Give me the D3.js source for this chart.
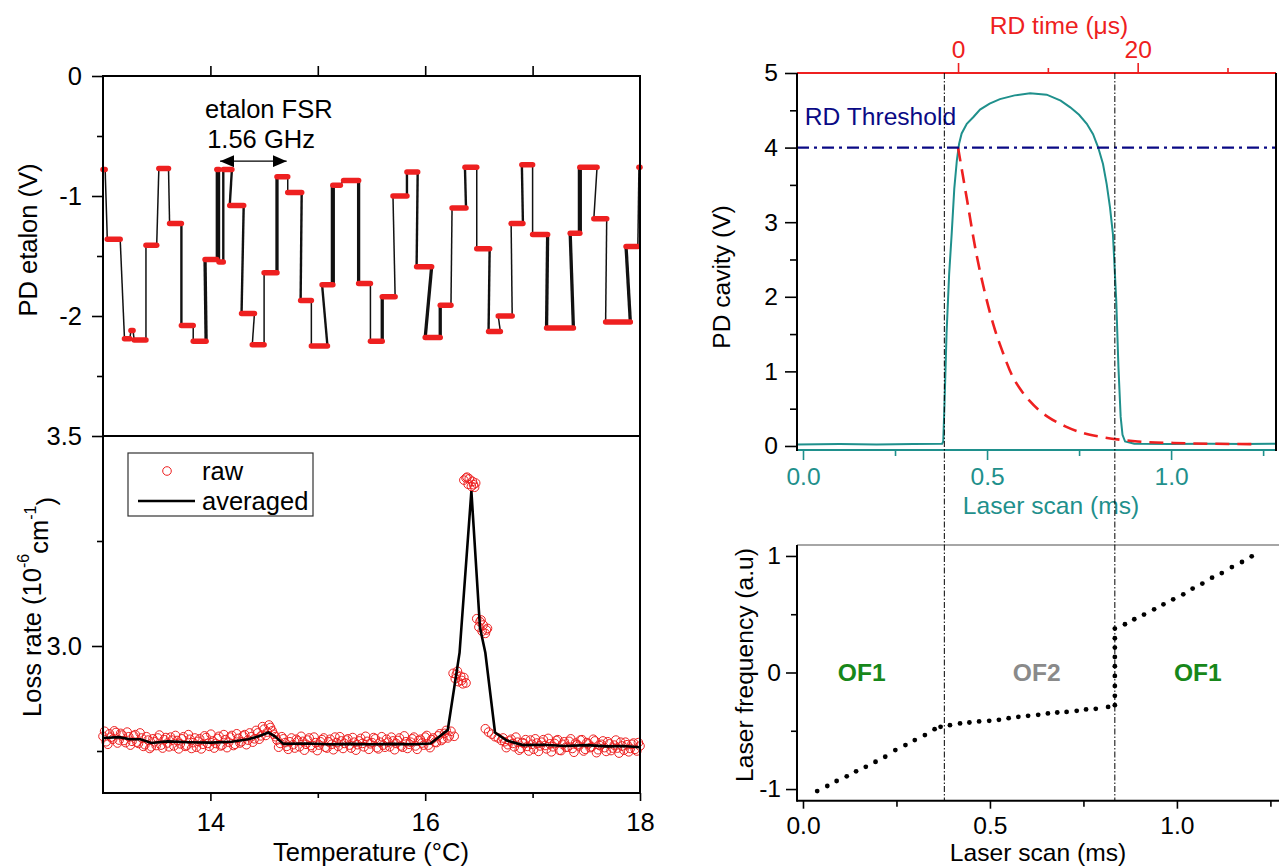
<!DOCTYPE html>
<html>
<head>
<meta charset="utf-8">
<script src="https://cdn.jsdelivr.net/npm/d3@7"></script>
<style>
body { margin: 0; background: #fff; }
svg text { font-family: "Liberation Sans", Arial, sans-serif; }
</style>
</head>
<body>
<svg width="1279" height="868"></svg>
<script>
// ---------- etalon signal: plateaus [T start, T end, volts, mode hops] ----------
var etalonSteps = [
  [13.00, 13.02, -0.78, 1], [13.04, 13.16, -1.36, 1], [13.20, 13.25, -2.19, 1],
  [13.26, 13.28, -2.12, 1], [13.29, 13.40, -2.20, 1], [13.40, 13.50, -1.41, 1],
  [13.52, 13.61, -0.77, 1], [13.62, 13.73, -1.23, 1], [13.73, 13.84, -2.08, 2],
  [13.84, 13.96, -2.21, 1], [13.95, 14.06, -1.53, 3], [14.06, 14.08, -0.78, 2],
  [14.08, 14.12, -1.55, 2], [14.12, 14.20, -0.78, 2], [14.18, 14.31, -1.08, 2],
  [14.29, 14.41, -1.98, 2], [14.39, 14.50, -2.24, 1], [14.50, 14.62, -1.64, 1],
  [14.62, 14.72, -0.84, 3], [14.72, 14.85, -0.97, 1], [14.84, 14.94, -1.87, 2],
  [14.94, 15.09, -2.25, 1], [15.04, 15.14, -1.74, 2], [15.14, 15.21, -0.91, 4],
  [15.24, 15.38, -0.87, 1], [15.38, 15.49, -1.73, 3], [15.49, 15.60, -2.21, 1],
  [15.60, 15.72, -1.84, 3], [15.70, 15.83, -1.00, 1], [15.83, 15.93, -0.80, 2],
  [15.92, 16.06, -1.59, 2], [16.00, 16.14, -2.18, 3], [16.14, 16.24, -1.91, 3],
  [16.25, 16.38, -1.10, 1], [16.37, 16.48, -0.76, 2], [16.48, 16.60, -1.44, 1],
  [16.59, 16.70, -2.13, 2], [16.68, 16.81, -2.00, 1], [16.80, 16.91, -1.23, 1],
  [16.90, 17.00, -0.74, 2], [17.00, 17.14, -1.32, 1], [17.13, 17.38, -2.10, 3],
  [17.35, 17.44, -1.31, 3], [17.44, 17.60, -0.76, 4], [17.57, 17.69, -1.19, 1],
  [17.68, 17.91, -2.05, 1], [17.87, 17.98, -1.42, 3], [17.99, 18.00, -0.76, 1]
];

// ---------- loss rate: raw points (first sweep) ----------
var rawT = [
  13.00,13.03,13.06,13.09,13.12,13.15,13.18,13.21,13.24,13.27,13.30,13.33,13.36,13.39,13.42,13.45,13.48,13.51,13.54,13.57,
  13.60,13.63,13.66,13.69,13.72,13.75,13.78,13.81,13.84,13.87,13.90,13.93,13.96,13.99,14.02,14.05,14.08,14.11,14.14,14.17,
  14.20,14.23,14.26,14.29,14.32,14.35,14.38,14.41,14.44,14.47,14.50,14.53,14.56,14.59,14.62,14.65,14.68,14.71,14.74,14.77,
  14.80,14.83,14.86,14.89,14.92,14.95,14.98,15.01,15.04,15.07,15.10,15.13,15.16,15.19,15.22,15.25,15.28,15.31,15.34,15.37,
  15.40,15.43,15.46,15.49,15.52,15.55,15.58,15.61,15.64,15.67,15.70,15.73,15.76,15.79,15.82,15.85,15.88,15.91,15.94,15.97,
  16.00,16.03,16.06,16.09,16.12,16.15,16.18,16.21,16.24,16.27,
  16.26,16.28,16.30,16.31,16.33,16.35,16.36,16.38,16.29,16.34,
  16.36,16.38,16.40,16.41,16.43,16.44,16.46,16.47,16.39,16.45,
  16.48,16.50,16.51,16.53,16.54,16.56,16.58,16.52,16.57,
  16.56,16.59,16.62,16.65,16.68,16.71,
  16.74,16.77,16.80,16.83,16.86,16.89,16.92,16.95,16.98,17.01,17.04,17.07,17.10,17.13,17.16,17.19,17.22,17.25,17.28,17.31,
  17.34,17.37,17.40,17.43,17.46,17.49,17.52,17.55,17.58,17.61,17.64,17.67,17.70,17.73,17.76,17.79,17.82,17.85,17.88,17.91,
  17.94,17.97,18.00
];
var rawV = [
  2.785,2.772,2.791,2.778,2.794,2.776,2.788,2.770,2.784,2.773,2.789,2.768,2.781,2.765,2.776,2.760,2.772,2.781,2.764,2.777,
  2.769,2.783,2.762,2.775,2.767,2.784,2.763,2.778,2.770,2.759,2.779,2.766,2.782,2.761,2.774,2.768,2.785,2.764,2.777,2.771,
  2.787,2.766,2.780,2.772,2.789,2.776,2.784,2.779,2.793,2.786,2.802,2.795,2.806,2.790,2.776,2.768,2.779,2.761,2.772,2.765,
  2.778,2.760,2.773,2.766,2.781,2.758,2.770,2.764,2.777,2.759,2.772,2.766,2.783,2.761,2.774,2.768,2.779,2.757,2.771,2.765,
  2.780,2.760,2.773,2.767,2.782,2.758,2.771,2.764,2.778,2.760,2.774,2.768,2.781,2.759,2.772,2.766,2.779,2.762,2.775,2.769,
  2.783,2.764,2.777,2.771,2.786,2.775,2.792,2.781,2.797,2.785,
  2.935,2.922,2.940,2.915,2.928,2.910,2.925,2.912,2.932,2.918,
  3.395,3.400,3.385,3.398,3.380,3.392,3.378,3.388,3.402,3.384,
  3.065,3.045,3.058,3.035,3.050,3.030,3.042,3.062,3.038,
  2.803,2.795,2.790,2.784,2.781,2.775,
  2.772,2.765,2.778,2.760,2.771,2.756,2.768,2.761,2.776,2.754,2.769,2.762,2.777,2.755,2.767,2.760,2.775,2.752,2.766,2.759,
  2.773,2.756,2.769,2.762,2.777,2.754,2.767,2.760,2.774,2.753,2.766,2.758,2.772,2.751,2.764,2.757,2.771,2.752,2.765,2.756,
  2.769,2.750,2.762
];

// ---------- loss rate: raw points (second sweep) ----------
var rawT2 = [
  13.015,13.045,13.075,13.105,13.135,13.165,13.195,13.225,13.255,13.285,13.315,13.345,13.375,13.405,13.435,13.465,13.495,13.525,
  13.555,13.585,13.615,13.645,13.675,13.705,13.735,13.765,13.795,13.825,13.855,13.885,13.915,13.945,13.975,14.005,14.035,14.065,
  14.095,14.125,14.155,14.185,14.215,14.245,14.275,14.305,14.335,14.365,14.395,14.425,14.455,14.485,14.515,14.545,14.575,14.605,
  14.635,14.665,14.695,14.725,14.755,14.785,14.815,14.845,14.875,14.905,14.935,14.965,14.995,15.025,15.055,15.085,15.115,15.145,
  15.175,15.205,15.235,15.265,15.295,15.325,15.355,15.385,15.415,15.445,15.475,15.505,15.535,15.565,15.595,15.625,15.655,15.685,
  15.715,15.745,15.775,15.805,15.835,15.865,15.895,15.925,15.955,15.985,16.015,16.045,16.075,16.105,16.135,16.165,16.195,16.225,
  16.725,16.755,16.785,16.815,16.845,16.875,16.905,16.935,16.965,16.995,17.025,17.055,17.085,17.115,17.145,17.175,17.205,17.235,
  17.265,17.295,17.325,17.355,17.385,17.415,17.445,17.475,17.505,17.535,17.565,17.595,17.625,17.655,17.685,17.715,17.745,17.775,
  17.805,17.835,17.865,17.895,17.925,17.955,17.985
];
var rawV2 = [
  2.797,2.766,2.783,2.798,2.769,2.792,2.775,2.795,2.764,2.786,2.771,2.793,2.761,2.784,2.756,2.779,2.763,2.788,
  2.757,2.782,2.760,2.776,2.787,2.755,2.779,2.761,2.789,2.756,2.781,2.773,2.755,2.786,2.768,2.790,2.757,2.780,
  2.762,2.789,2.758,2.783,2.763,2.791,2.769,2.786,2.765,2.793,2.771,2.799,2.778,2.808,2.787,2.812,2.798,2.784,
  2.759,2.784,2.770,2.754,2.781,2.757,2.774,2.785,2.752,2.776,2.763,2.783,2.751,2.772,2.781,2.757,2.778,2.753,
  2.770,2.784,2.756,2.776,2.764,2.782,2.752,2.774,2.768,2.785,2.754,2.770,2.779,2.755,2.784,2.759,2.771,2.783,
  2.753,2.775,2.762,2.786,2.756,2.771,2.783,2.754,2.778,2.764,2.787,2.758,2.781,2.770,2.791,2.779,2.799,2.786,
  2.781,2.758,2.774,2.768,2.783,2.752,2.770,2.777,2.750,2.766,2.779,2.749,2.771,2.763,2.780,2.748,2.768,2.777,
  2.751,2.772,2.759,2.779,2.747,2.765,2.776,2.750,2.770,2.758,2.778,2.746,2.763,2.774,2.749,2.767,2.757,2.776,
  2.745,2.762,2.771,2.748,2.766,2.754,2.770
];

// ---------- loss rate: averaged ----------
var avgT = [13.00,13.15,13.25,13.35,13.45,13.60,13.80,14.00,14.20,14.35,14.45,14.54,14.60,14.68,14.90,15.10,15.30,15.50,15.70,15.90,
            16.05,16.21,16.32,16.43,16.51,16.56,16.65,16.76,16.91,17.10,17.30,17.50,17.70,17.85,18.00];
var avgV = [2.781,2.783,2.778,2.778,2.769,2.773,2.771,2.770,2.772,2.778,2.785,2.794,2.785,2.767,2.768,2.766,2.767,2.766,2.767,2.766,
            2.768,2.800,2.984,3.369,3.044,2.984,2.794,2.775,2.764,2.765,2.762,2.764,2.761,2.762,2.759];

// ---------- PD cavity vs laser scan ----------
var cavScan = [-0.016,0.10,0.20,0.30,0.378,0.381,0.384,0.387,0.390,0.397,0.404,0.411,0.418,0.424,0.431,0.445,0.463,0.481,0.507,0.535,
               0.575,0.617,0.662,0.700,0.726,0.750,0.771,0.788,0.802,0.815,0.825,0.834,0.842,0.851,0.857,0.863,0.868,0.875,0.90,1.00,
               1.10,1.20,1.285];
var cavV = [0.020,0.025,0.020,0.025,0.030,0.06,0.50,1.00,1.51,2.30,2.85,3.45,3.83,4.05,4.19,4.32,4.41,4.51,4.59,4.65,
            4.70,4.73,4.71,4.63,4.54,4.44,4.32,4.18,4.00,3.78,3.51,3.20,2.84,1.95,1.05,0.39,0.15,0.06,0.03,0.025,
            0.03,0.025,0.03];

// ring-down decay (RD time in microseconds)
var rdTime = [0,1,2,3,4,5,6,7,8,9,10,12,14,16,18,20,24,28,33];
var rdV = [4.00,3.30,2.60,2.05,1.60,1.25,0.95,0.75,0.60,0.48,0.39,0.26,0.17,0.12,0.085,0.06,0.04,0.03,0.025];
var rdThreshold = 4;

// ---------- laser frequency vs laser scan ----------
var freqScan = [0.038,0.065,0.090,0.117,0.142,0.168,0.194,0.220,0.247,0.274,0.299,0.326,0.352,0.368,
                0.393,0.420,0.445,0.471,0.498,0.524,0.550,0.576,0.602,0.629,0.655,0.680,0.705,0.732,0.757,0.783,0.816,
                0.834,0.834,0.834,0.834,0.834,0.834,0.834,0.834,0.834,
                0.861,0.886,0.912,0.939,0.964,0.990,1.017,1.042,1.068,1.094,1.120,1.147,1.174,1.200];
var freqVal = [-1.017,-0.974,-0.931,-0.891,-0.848,-0.809,-0.766,-0.723,-0.666,-0.623,-0.580,-0.537,-0.486,-0.466,
               -0.452,-0.437,-0.429,-0.420,-0.415,-0.406,-0.392,-0.380,-0.372,-0.363,-0.351,-0.343,-0.338,-0.329,-0.317,-0.312,-0.295,
               -0.280,-0.200,-0.115,-0.029,0.054,0.134,0.214,0.294,0.377,
               0.414,0.457,0.497,0.542,0.585,0.628,0.671,0.720,0.763,0.814,0.853,0.905,0.948,0.997];
var regionBounds = [0.378, 0.834];
var regionNames = ['OF1', 'OF2', 'OF1'];
var regionCenters = [0.157, 0.625, 1.056];

// ---------- drawing ----------
var FONT_L = 25.5, FONT_R = 24.6;
var FAMILY = '"Liberation Sans", Arial, sans-serif';
var RED = '#ee2020', TEAL = '#1f908c', NAVY = '#0a0a85';

var svg = d3.select('svg');
svg.append('rect').attr('width', 1279).attr('height', 868).attr('fill', '#fff');

var xTemp = d3.scaleLinear().domain([13, 18]).range([103, 640]);
var yEtalon = d3.scaleLinear().domain([-3, 0]).range([436, 76]);
var yLoss = d3.scaleLinear().domain([2.65, 3.5]).range([793, 436]);

var xScan = d3.scaleLinear().domain([-0.0163, 1.285]).range([797, 1276]);
var xRD = d3.scaleLinear().domain([-17.93, 35.4]).range([797, 1276]);
var yCav = d3.scaleLinear().domain([-0.054, 5]).range([450, 73]);

var xScan2 = d3.scaleLinear().domain([-0.016, 1.273]).range([797, 1279]);
var yFreq = d3.scaleLinear().domain([-1.1, 1.094]).range([800.7, 545]);

function addAxis(orient, scale, pos, o) {
  var make = {left: d3.axisLeft, top: d3.axisTop, bottom: d3.axisBottom}[orient];
  var tr = orient == 'left' ? 'translate(' + pos + ',0)' : 'translate(0,' + pos + ')';
  if (o.minor) {
    var gm = svg.append('g').attr('transform', tr)
      .call(make(scale).tickValues(o.minor).tickSize(o.minorSize).tickFormat(''));
    gm.select('.domain').remove();
    gm.selectAll('line').attr('stroke', o.color).attr('stroke-width', 1.6);
  }
  var g = svg.append('g').attr('transform', tr)
    .call(make(scale).tickValues(o.major).tickSize(o.size).tickPadding(o.pad)
      .tickFormat(o.fmt || function(d) { return d; }));
  g.attr('font-size', o.font).attr('font-family', FAMILY);
  g.select('.domain').remove();
  g.selectAll('line').attr('stroke', o.color).attr('stroke-width', 1.6);
  g.selectAll('text').attr('fill', o.text || o.color);
  if (o.noLabels) g.selectAll('text').remove();
}

function hline(y, x0, x1, color, w) {
  return svg.append('line').attr('x1', x0).attr('x2', x1).attr('y1', y).attr('y2', y)
    .attr('stroke', color).attr('stroke-width', w || 2);
}
function vline(x, y0, y1, color, w) {
  return svg.append('line').attr('x1', x).attr('x2', x).attr('y1', y0).attr('y2', y1)
    .attr('stroke', color).attr('stroke-width', w || 2);
}

// ===== left top: etalon =====
var etalonG = svg.append('g');
etalonSteps.forEach(function(s, i) {
  if (i > 0) {
    var p = etalonSteps[i - 1];
    etalonG.append('line')
      .attr('x1', xTemp(p[1])).attr('y1', yEtalon(p[2]))
      .attr('x2', xTemp(s[0])).attr('y2', yEtalon(s[2]))
      .attr('stroke', '#111').attr('stroke-width', 0.6 + 0.9 * s[3]);
  }
});
etalonG.selectAll('line.step').data(etalonSteps).enter().append('line')
  .attr('x1', function(d) { return xTemp(d[0]); })
  .attr('x2', function(d) { return xTemp(d[1]); })
  .attr('y1', function(d) { return yEtalon(d[2]); })
  .attr('y2', function(d) { return yEtalon(d[2]); })
  .attr('stroke', RED).attr('stroke-width', 5.5).attr('stroke-linecap', 'round');

// FSR annotation
var defs = svg.append('defs');
defs.append('marker').attr('id', 'head').attr('viewBox', '0 0 14 12')
  .attr('refX', 14).attr('refY', 6).attr('markerWidth', 14).attr('markerHeight', 12)
  .attr('markerUnits', 'userSpaceOnUse').attr('orient', 'auto-start-reverse')
  .append('path').attr('d', 'M0,0 L14,6 L0,12 Z').attr('fill', '#000');
svg.append('line')
  .attr('x1', xTemp(14.09)).attr('x2', xTemp(14.71))
  .attr('y1', yEtalon(-0.71)).attr('y2', yEtalon(-0.71))
  .attr('stroke', '#000').attr('stroke-width', 1.3)
  .attr('marker-start', 'url(#head)').attr('marker-end', 'url(#head)');
svg.append('text').attr('x', xTemp(13.95)).attr('y', yEtalon(-0.35))
  .attr('font-size', FONT_L).text('etalon FSR');
svg.append('text').attr('x', xTemp(13.97)).attr('y', yEtalon(-0.6))
  .attr('font-size', FONT_L).text('1.56 GHz');

// ===== left bottom: loss rate =====
var raw = rawT.map(function(t, i) { return [t, rawV[i]]; })
  .concat(rawT2.map(function(t, i) { return [t, rawV2[i]]; }));
svg.append('g').selectAll('circle').data(raw).enter().append('circle')
  .attr('cx', function(d) { return xTemp(d[0]); })
  .attr('cy', function(d) { return yLoss(d[1]); })
  .attr('r', 4.3).attr('fill', 'none').attr('stroke', RED).attr('stroke-width', 1);

svg.append('path').datum(avgT.map(function(t, i) { return [t, avgV[i]]; }))
  .attr('d', d3.line().x(function(d) { return xTemp(d[0]); }).y(function(d) { return yLoss(d[1]); }))
  .attr('fill', 'none').attr('stroke', '#000').attr('stroke-width', 2.6);

// legend
svg.append('rect').attr('x', 128).attr('y', 453).attr('width', 185).attr('height', 63)
  .attr('fill', '#fff').attr('stroke', '#333').attr('stroke-width', 1.2);
svg.append('circle').attr('cx', 167).attr('cy', 471).attr('r', 4.3)
  .attr('fill', 'none').attr('stroke', RED).attr('stroke-width', 1);
svg.append('text').attr('x', 202).attr('y', 480).attr('font-size', FONT_L).text('raw');
hline(501, 138, 195, '#000', 2.6);
svg.append('text').attr('x', 202).attr('y', 510).attr('font-size', FONT_L).text('averaged');

// left frames and axes
hline(76, 103, 640, '#000', 2);
hline(436, 103, 640, '#000', 2);
hline(793, 103, 640, '#000', 2);
vline(103, 75, 794, '#000', 2);
vline(640, 75, 794, '#000', 2);

addAxis('left', yEtalon, 103, {major: [0, -1, -2], minor: [-0.5, -1.5, -2.5], size: 11, minorSize: 6, pad: 10, color: '#000', font: FONT_L});
addAxis('top', xTemp, 76, {major: [14, 15, 16, 17], size: 10, pad: 5, color: '#000', noLabels: true, font: FONT_L});
addAxis('left', yLoss, 103, {major: [3.5, 3.0], minor: [3.25, 2.75], size: 11, minorSize: 6, pad: 10, color: '#000', fmt: d3.format('.1f'), font: FONT_L});
addAxis('bottom', xTemp, 793, {major: [14, 16, 18], minor: [15, 17], size: 8, minorSize: 5, pad: 12, color: '#000', font: FONT_L});

svg.append('text').attr('transform', 'translate(28,240) rotate(-90)')
  .attr('text-anchor', 'middle').attr('dy', '0.35em').attr('font-size', FONT_L).text('PD etalon (V)');
var lossLabel = svg.append('text').attr('transform', 'translate(32,607) rotate(-90)')
  .attr('text-anchor', 'middle').attr('dy', '0.35em').attr('font-size', FONT_L);
lossLabel.append('tspan').text('Loss rate (10');
lossLabel.append('tspan').attr('font-size', 16).attr('dy', '-0.75em').text('-6');
lossLabel.append('tspan').attr('dy', '0.75em').text('cm');
lossLabel.append('tspan').attr('font-size', 16).attr('dy', '-0.75em').text('-1');
lossLabel.append('tspan').attr('dy', '0.75em').text(')');
svg.append('text').attr('x', 371).attr('y', 861).attr('text-anchor', 'middle')
  .attr('font-size', FONT_L).text('Temperature (°C)');

// ===== right top: PD cavity =====
svg.append('path').datum(cavScan.map(function(s, i) { return [s, cavV[i]]; }))
  .attr('d', d3.line().x(function(d) { return xScan(d[0]); }).y(function(d) { return yCav(d[1]); }))
  .attr('fill', 'none').attr('stroke', TEAL).attr('stroke-width', 2);

svg.append('path').datum(rdTime.map(function(t, i) { return [t, rdV[i]]; }))
  .attr('d', d3.line().curve(d3.curveMonotoneX).x(function(d) { return xRD(d[0]); }).y(function(d) { return yCav(d[1]); }))
  .attr('fill', 'none').attr('stroke', RED).attr('stroke-width', 2.6).attr('stroke-dasharray', '14,8');

hline(yCav(rdThreshold), 797, 1276, NAVY, 2.2).attr('stroke-dasharray', '12,5,3,5');
svg.append('text').attr('x', xScan(0.005)).attr('y', yCav(4.3)).attr('fill', NAVY)
  .attr('font-size', FONT_R).text('RD Threshold');

// frames
hline(73, 797, 1276, RED, 2);
hline(450, 797, 1276, TEAL, 2);
vline(797, 73, 451, '#000', 2);
vline(1276, 73, 451, '#000', 2);

addAxis('left', yCav, 797, {major: [0, 1, 2, 3, 4, 5], minor: [0.5, 1.5, 2.5, 3.5, 4.5], size: 12, minorSize: 7, pad: 7, color: '#000', font: FONT_R});
addAxis('bottom', xScan, 450, {major: [0, 0.5, 1.0], minor: [0.25, 0.75, 1.25], size: 10, minorSize: 6, pad: 8, color: TEAL, fmt: d3.format('.1f'), font: FONT_R});
addAxis('top', xRD, 73, {major: [0, 20], minor: [10, 30], size: 10, minorSize: 5, pad: 5, color: RED, font: FONT_R});

svg.append('text').attr('transform', 'translate(721,277) rotate(-90)')
  .attr('text-anchor', 'middle').attr('dy', '0.35em').attr('font-size', FONT_R).text('PD cavity (V)');
svg.append('text').attr('x', 1051).attr('y', 514).attr('text-anchor', 'middle')
  .attr('fill', TEAL).attr('font-size', FONT_R).text('Laser scan (ms)');
svg.append('text').attr('x', 1059).attr('y', 34).attr('text-anchor', 'middle')
  .attr('fill', RED).attr('font-size', FONT_R).text('RD time (μs)');

// ===== right bottom: laser frequency =====
svg.append('g').selectAll('circle').data(freqScan.map(function(s, i) { return [s, freqVal[i]]; }))
  .enter().append('circle')
  .attr('cx', function(d) { return xScan2(d[0]); })
  .attr('cy', function(d) { return yFreq(d[1]); })
  .attr('r', 2.4).attr('fill', '#000');

svg.append('g').selectAll('text').data(regionNames).enter().append('text')
  .attr('x', function(d, i) { return xScan2(regionCenters[i]); })
  .attr('y', yFreq(0)).attr('dy', '0.35em').attr('text-anchor', 'middle')
  .attr('font-size', FONT_R).attr('font-weight', 'bold')
  .attr('fill', function(d) { return d == 'OF2' ? '#8a8a8a' : '#17871a'; })
  .text(function(d) { return d; });

hline(545, 797, 1279, '#888', 1.5);
hline(800.7, 797, 1279, '#000', 2);
vline(797, 545, 801.7, '#000', 2);

addAxis('left', yFreq, 797, {major: [-1, 0, 1], minor: [-0.5, 0.5], size: 11, minorSize: 6, pad: 5, color: '#000', font: FONT_R});
addAxis('bottom', xScan2, 800.7, {major: [0, 0.5, 1.0], minor: [0.25, 0.75, 1.25], size: 8, minorSize: 6, pad: 8, color: '#000', fmt: d3.format('.1f'), font: FONT_R});

svg.append('text').attr('transform', 'translate(744,665) rotate(-90)')
  .attr('text-anchor', 'middle').attr('dy', '0.35em').attr('font-size', FONT_R).text('Laser frequency (a.u)');
svg.append('text').attr('x', 1038).attr('y', 861).attr('text-anchor', 'middle')
  .attr('font-size', FONT_R).text('Laser scan (ms)');

// region boundaries across both right panels
regionBounds.forEach(function(b) {
  vline(xScan2(b), 73, 800, '#000', 1).attr('stroke-dasharray', '6,2,1.5,2');
});
</script>
</body>
</html>
